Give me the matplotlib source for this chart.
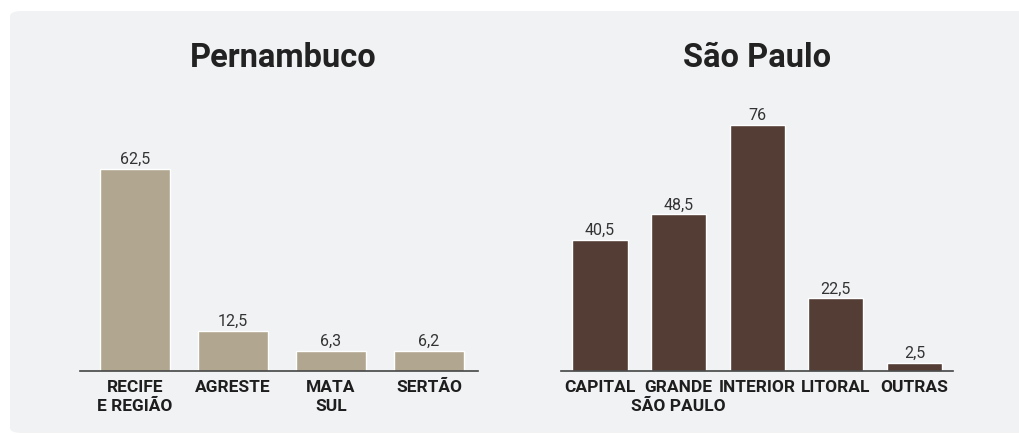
import matplotlib
matplotlib.use("Agg")
import matplotlib.pyplot as plt
from matplotlib.patches import FancyBboxPatch

pe_categories = ["RECIFE\nE REGIÃO", "AGRESTE", "MATA\nSUL", "SERTÃO"]
pe_values = [62.5, 12.5, 6.3, 6.2]
sp_categories = ["CAPITAL", "GRANDE\nSÃO PAULO", "INTERIOR", "LITORAL", "OUTRAS"]
sp_values = [40.5, 48.5, 76, 22.5, 2.5]
titles = ["Pernambuco", "São Paulo"]

W, H = 1019, 435
fig = plt.figure(figsize=(W / 100, H / 100), dpi=100)
fig.patch.set_facecolor("white")

panel = FancyBboxPatch((10 / W, 1 / H), (W - 10) / W + 0.02, (H - 13) / H,
                       boxstyle="round,pad=0,rounding_size=0.012",
                       transform=fig.transFigure, facecolor="#f1f2f4",
                       edgecolor="none", zorder=-10)
fig.patches.append(panel)

FONT = "Roboto"


def draw(rect, cats, vals, color, width, xlim, title, title_x):
    ax = fig.add_axes(rect)
    ax.set_zorder(5)
    ax.set_facecolor("none")
    x = list(range(len(vals)))
    bars = ax.bar(x, vals, width=width, color=color, edgecolor="white", linewidth=1, zorder=2)
    ax.set_ylim(0, 84.1)
    ax.set_xlim(*xlim)
    for b, v in zip(bars, vals):
        ax.annotate(f"{v:g}".replace(".", ","), (b.get_x() + b.get_width() / 2, v),
                    xytext=(0, 2), textcoords="offset points", ha="center", va="bottom",
                    fontsize=11.5, color="#333333", family=FONT)
    for s in ["top", "left", "right"]:
        ax.spines[s].set_visible(False)
    ax.spines["bottom"].set_color("#444444")
    ax.spines["bottom"].set_linewidth(1.2)
    ax.set_yticks([])
    ax.set_xticks(x)
    ax.set_xticklabels(cats, fontsize=12.5, fontweight="bold", color="#1e1e1e",
                       family=FONT, linespacing=1.28)
    ax.tick_params(axis="x", length=0, pad=6)
    fig.text(title_x / W, 1 - 58 / H, title, ha="center", va="center",
             fontsize=23.5, fontweight="bold", color="#222222", family=FONT, zorder=5)
    return ax


draw([80 / W, 63 / H, 398 / W, 272 / H], pe_categories, pe_values, "#b1a690",
     0.714, (-0.561, 3.5), titles[0], 283)
draw([561 / W, 63 / H, 392 / W, 272 / H], sp_categories, sp_values, "#533d35",
     0.70, (-0.496, 4.49), titles[1], 757)

fig.savefig("out.png", dpi=100, facecolor="white")
